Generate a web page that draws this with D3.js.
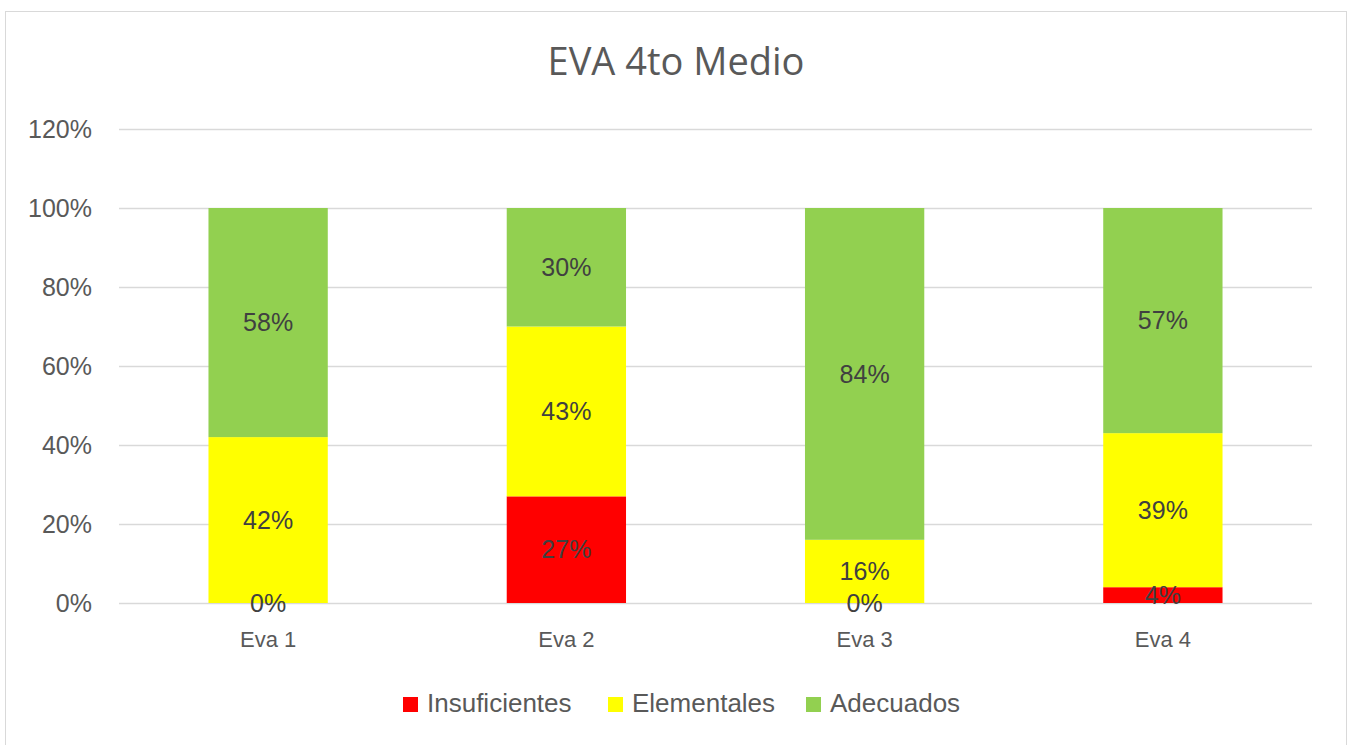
<!DOCTYPE html>
<html>
<head>
<meta charset="utf-8">
<script src="https://cdn.jsdelivr.net/npm/d3@7"></script>
<style>
  body { margin: 0; background: #fff; }
  svg { display: block; }
</style>
</head>
<body>
<svg></svg>
<script>
let categories = ['Eva 1', 'Eva 2', 'Eva 3', 'Eva 4']
let seriesNames = ['Insuficientes', 'Elementales', 'Adecuados']
let insuficientes = [0, 0.27, 0, 0.04]
let elementales = [0.42, 0.43, 0.16, 0.39]
let adecuados = [0.58, 0.30, 0.84, 0.57]
let colors = ['#ff0000', '#ffff00', '#92d050']
let yTicks = [0, 0.2, 0.4, 0.6, 0.8, 1.0, 1.2]

let width = 1352
let height = 745
let plot = { left: 119, right: 1312, top: 129, bottom: 603 }
let font = '"Liberation Sans", Arial, sans-serif'

let svg = d3.select('svg')

// function: drawCanvas
let drawCanvas = () => {
  svg.attr('width', width).attr('height', height)
  svg.append('rect')
    .attr('x', 5.5).attr('y', 11.5)
    .attr('width', 1341).attr('height', 740)
    .attr('fill', '#fff')
    .attr('stroke', '#d9d9d9')
    .attr('stroke-width', 1)
}

let xScale = d3.scaleBand()
  .domain(categories)
  .range([plot.left, plot.right])
  .paddingInner(0.6)
  .paddingOuter(0.3)

let yScale = d3.scaleLinear()
  .domain([0, 1.2])
  .range([plot.bottom, plot.top])

// build the stack rows
let rows = categories.map((c, i) => ({
  cat: c,
  Insuficientes: insuficientes[i],
  Elementales: elementales[i],
  Adecuados: adecuados[i]
}))
let stacked = d3.stack().keys(seriesNames)(rows)

// function: drawGrid
let drawGrid = () => {
  let yAxis = d3.axisLeft(yScale)
    .tickValues(yTicks)
    .tickSize(-(plot.right - plot.left))
    .tickPadding(27)
    .tickFormat(d => Math.round(d * 100) + '%')
  let g = svg.append('g')
    .attr('transform', 'translate(' + plot.left + ',0)')
    .call(yAxis)
  g.select('.domain').remove()
  g.selectAll('.tick line').attr('stroke', '#d9d9d9').attr('stroke-width', 1.5)
  g.selectAll('.tick text')
    .attr('fill', '#595959')
    .style('font-family', font)
    .style('font-size', '25px')
}

// function: drawBars
let drawBars = () => {
  let groups = svg.selectAll('g.series')
    .data(stacked)
    .enter()
    .append('g')
    .attr('class', 'series')
    .attr('fill', (d, i) => colors[i])

  groups.selectAll('rect')
    .data(d => d)
    .enter()
    .append('rect')
    .attr('x', d => xScale(d.data.cat))
    .attr('width', xScale.bandwidth())
    .attr('y', d => yScale(d[1]))
    .attr('height', d => yScale(d[0]) - yScale(d[1]))

  stacked.forEach(s => {
    svg.append('g').selectAll('text')
      .data(s)
      .enter()
      .append('text')
      .attr('x', d => xScale(d.data.cat) + xScale.bandwidth() / 2)
      .attr('y', d => (yScale(d[0]) + yScale(d[1])) / 2)
      .attr('dy', '0.35em')
      .attr('text-anchor', 'middle')
      .attr('fill', '#404040')
      .style('font-family', font)
      .style('font-size', '25px')
      .text(d => Math.round((d[1] - d[0]) * 100) + '%')
  })
}

// function: drawAxes
let drawAxes = () => {
  let xAxis = d3.axisBottom(xScale).tickSize(0).tickPadding(28)
  let g = svg.append('g')
    .attr('transform', 'translate(0,' + plot.bottom + ')')
    .call(xAxis)
  g.select('.domain').remove()
  g.selectAll('.tick text')
    .attr('fill', '#595959')
    .style('font-family', font)
    .style('font-size', '22px')
}

// function: drawTitle
let drawTitle = () => {
  svg.append('text')
    .attr('x', 676)
    .attr('y', 75)
    .attr('text-anchor', 'middle')
    .attr('fill', '#595959')
    .style('font-family', '"Open Sans", sans-serif')
    .style('font-size', '38px')
    .text('EVA 4to Medio')
}

// function: drawLegend
let drawLegend = () => {
  let xs = [403, 608, 806]
  let lg = svg.append('g')
  seriesNames.forEach((n, i) => {
    lg.append('rect')
      .attr('x', xs[i]).attr('y', 697)
      .attr('width', 15).attr('height', 15)
      .attr('fill', colors[i])
    lg.append('text')
      .attr('x', xs[i] + 24).attr('y', 712)
      .attr('fill', '#595959')
      .style('font-family', font)
      .style('font-size', '26px')
      .text(n)
  })
}

drawCanvas()
drawGrid()
drawBars()
drawAxes()
drawTitle()
drawLegend()
</script>
</body>
</html>
